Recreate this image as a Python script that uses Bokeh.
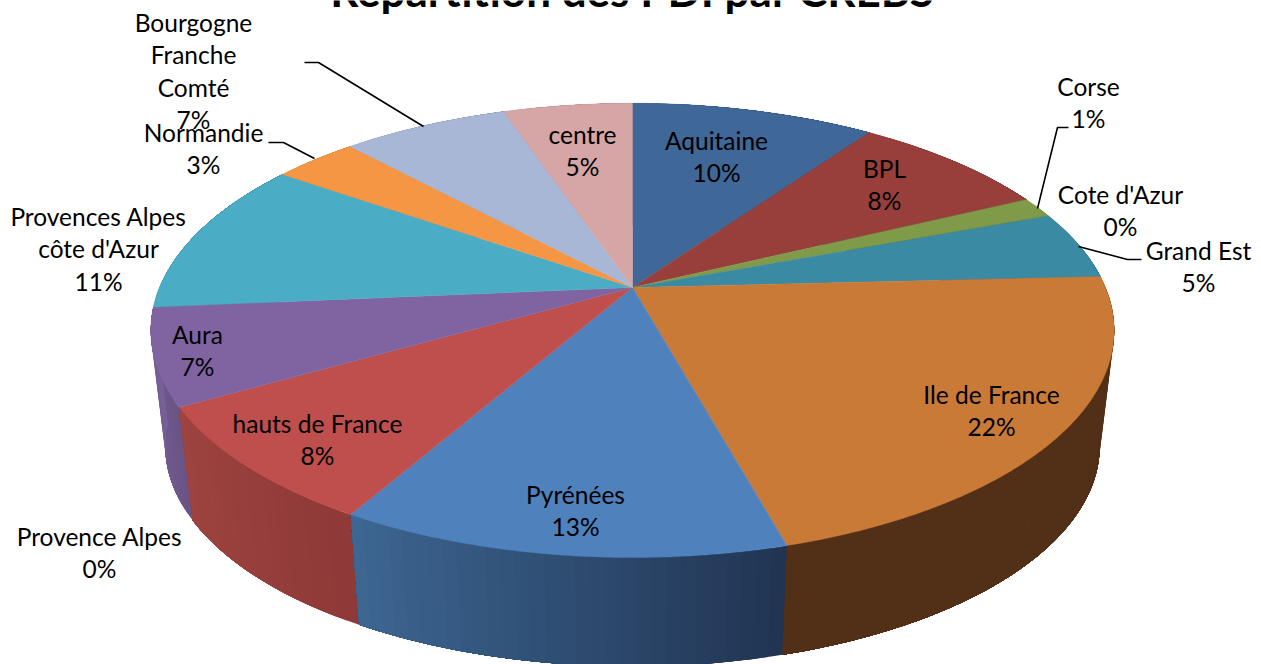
import math
from bokeh.plotting import figure
from bokeh.models import Range1d
from bokeh.core.properties import value
from bokeh.embed import file_html
from bokeh.resources import INLINE

# ---------- data ----------
categories = ["Aquitaine", "BPL", "Corse", "Cote d'Azur", "Grand Est", "Ile de France", "Pyrénées",
              "Provence Alpes", "hauts de France", "Aura", "Provences Alpes côte d'Azur",
              "Normandie", "Bourgogne Franche Comté", "centre"]
shares = [9.8, 8.05, 1.45, 0.05, 4.85, 21.5, 12.6, 0.0, 8.45, 6.85, 11.1, 3.4, 6.7, 5.2]
percent_labels = ["10%", "8%", "1%", "0%", "5%", "22%", "13%", "0%", "8%", "7%", "11%", "3%", "7%", "5%"]
label_lines = [["Aquitaine"], ["BPL"], ["Corse"], ["Cote d'Azur"], ["Grand Est"], ["Ile de France"], ["Pyrénées"],
               ["Provence Alpes"], ["hauts de France"], ["Aura"], ["Provences Alpes", "côte d'Azur"],
               ["Normandie"], ["Bourgogne", "Franche", "Comté"], ["centre"]]
title_text = "Répartition des PDI par CREBS"

# ---------- styles and layout ----------
top_colors = ["#3F6797", "#983F3C", "#7F9A48", "#7F9A48", "#3A8AA3", "#C97A36", "#4F81BD",
              "#4F81BD", "#BE4F4C", "#8064A2", "#4BACC6", "#F59645", "#A9B7D6", "#D5A6A5"]
side_from = ["#30507A", "#7A3230", "#66803A", "#66803A", "#2E7085", "#522F17", "#213553",
             "#213553", "#8E3A38", "#6A5486", "#3B8AA0", "#C57838", "#8793AC", "#AA8584"]
side_to = ["#30507A", "#7A3230", "#66803A", "#66803A", "#2E7085", "#522F17", "#3D6692",
           "#3D6692", "#9E433F", "#78609A", "#3B8AA0", "#C57838", "#8793AC", "#AA8584"]
CX, CY, A, B, C = 632.0, 287.0, 473.0, 219.0, -0.189   # perspective projection of the disc
BASE_DY, BASE_SCALE = 117.0, 0.97                      # lower rim of the extrusion
label_pos = [(716, 139.5), (884, 167.5), (1088, 85.5), (1120, 193.5), (1198, 249.5), (991, 393.5), (575, 493.5),
             (99, 535.5), (317, 422.5), (197, 333.5), (98, 215.5), (203, 131.5), (193, 21.5), (582, 133.5)]
LINE_H = 32.5
TITLE_Y = -11
leaders = [((304, 62), (318, 62), (423, 126)), ((268, 142), (283, 142), (314, 158)),
           ((1068, 127), (1057, 127), (1037, 208)), ((1141, 259), (1127, 259), (1078, 246))]


def project(theta):
    u, v = math.sin(theta), -math.cos(theta)
    d = 1 + C * v
    return CX + A * u / d, CY + B * v / d


def base(pt):
    return CX + (pt[0] - CX) * BASE_SCALE, CY + BASE_DY + (pt[1] - CY) * BASE_SCALE


def mix(c1, c2, t):
    a = [int(c1[i:i + 2], 16) for i in (1, 3, 5)]
    b = [int(c2[i:i + 2], 16) for i in (1, 3, 5)]
    return "#%02x%02x%02x" % tuple(round(x + (y - x) * t) for x, y in zip(a, b))


p = figure(width=1261, height=664, x_range=Range1d(0, 1261), y_range=Range1d(664, 0),
           output_backend="svg", toolbar_location=None, min_border=0, outline_line_color=None)
p.axis.visible = False
p.grid.visible = False

total = sum(shares)
bounds = [0.0]
for s in shares:
    bounds.append(bounds[-1] + s / total * 2 * math.pi)

# extrusion: overlapping bands per slice so no seams show, back slices first
order = sorted(range(len(shares)), key=lambda i: -math.cos((bounds[i] + bounds[i + 1]) / 2))
sx, sy, sc = [], [], []
for i in order:
    a0, a1 = bounds[i], bounds[i + 1]
    if a1 <= a0:
        continue
    n = max(int((a1 - a0) / math.radians(1.5)), 1)
    for k in range(n):
        t0 = a0 + (a1 - a0) * k / n
        m = max(int((a1 - t0) / math.radians(1.0)), 2)
        rim = [project(t0 + (a1 - t0) * j / m) for j in range(m + 1)]
        low = [base(q) for q in reversed(rim)]
        sx.append([q[0] for q in rim + low])
        sy.append([q[1] for q in rim + low])
        sc.append(mix(side_from[i], side_to[i], k / max(n - 1, 1)))
p.patches(sx, sy, fill_color=sc, line_color=None)

# top faces
xs, ys, cols = [], [], []
for i in range(len(shares)):
    a0, a1 = bounds[i], bounds[i + 1]
    if a1 <= a0:
        continue
    n = max(int((a1 - a0) / math.radians(0.5)), 2)
    pts = [project(a0 + (a1 - a0) * k / n) for k in range(n + 1)]
    xs.append([CX] + [q[0] for q in pts])
    ys.append([CY] + [q[1] for q in pts])
    cols.append(top_colors[i])
p.patches(xs, ys, fill_color=cols, line_color=cols, line_width=0.4)

# leader lines
for seg in leaders:
    p.line([q[0] for q in seg], [q[1] for q in seg], line_color="black", line_width=1.6)

# labels
tx, ty, tt = [], [], []
for lines, pct, pos in zip(label_lines, percent_labels, label_pos):
    for j, t in enumerate(lines + [pct]):
        tx.append(pos[0])
        ty.append(pos[1] + j * LINE_H)
        tt.append(t)
p.text(tx, ty, text=tt, text_font=value("Lato"), text_font_size="24.5px", text_color="black",
       text_align="center", text_baseline="middle")

p.text([632], [TITLE_Y], text=[title_text], text_font=value("Lato"), text_font_size="44px", text_font_style="bold",
       text_color="black", text_align="center", text_baseline="alphabetic")

open("out.html", "w").write(file_html(p, INLINE))
